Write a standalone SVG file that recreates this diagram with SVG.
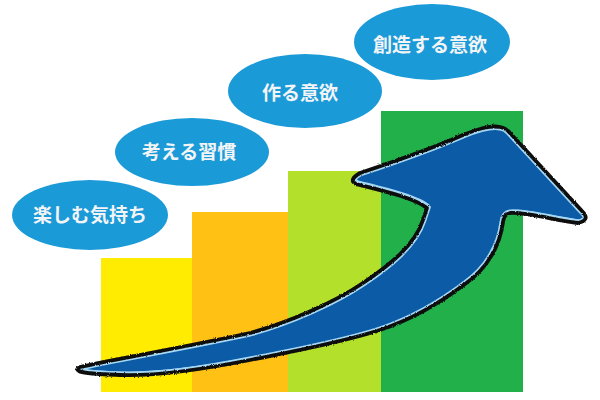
<svg xmlns="http://www.w3.org/2000/svg" width="600" height="400" viewBox="0 0 600 400">
  <style>
    .bubble { fill: #1b9ad8; }
    .label { font-family: "Noto Sans CJK JP", "Noto Sans", sans-serif; font-size: 19px; font-weight: 700; fill: #f3f4f6; text-anchor: middle; dominant-baseline: central; }
  </style>
  <defs>
    <path id="arrowShape" d="M 80,367 C 110,360 180,348 250,333 C 290,322 335,302 363,283 C 390,265 415,245 423,220 L 427,208 C 415,198 380,190 356,184 Q 348,180 360,173 C 390,163 440,145 463,135 C 478,129 490,125 500,127 Q 506,128 510,133 L 582,211 Q 591,220 578,223 C 555,220 525,212 510,213 Q 504,214 503,222 C 500,245 488,268 465,284 C 440,303 410,320 380,330 C 340,343 290,352 250,360 C 200,370 150,376 120,375 C 100,374 84,374 79,371 Q 75,369 80,367 Z"/>
    <clipPath id="arrowClip"><use href="#arrowShape"/></clipPath>
    <filter id="rough" x="-5%" y="-5%" width="110%" height="110%">
      <feTurbulence type="fractalNoise" baseFrequency="0.9" numOctaves="2" seed="3" result="n"/>
      <feDisplacementMap in="SourceGraphic" in2="n" scale="2.5" xChannelSelector="R" yChannelSelector="G"/>
    </filter>
  </defs>
  <rect width="600" height="400" fill="#ffffff"/>
  <g id="bars">
    <rect id="bar1" x="101" y="258" width="146" height="134" fill="#ffec00"/>
    <rect id="bar2" x="192" y="212" width="146" height="180" fill="#ffc214"/>
    <rect id="bar3" x="288" y="171" width="145" height="221" fill="#b3e02a"/>
    <rect id="bar4" x="381" y="111" width="142" height="281" fill="#22b04b"/>
  </g>
  <g id="arrow">
    <use href="#arrowShape" fill="#a6d8f4"/>
    <g clip-path="url(#arrowClip)">
      <use href="#arrowShape" fill="#0b5ba7" transform="translate(2.5,-3.5)"/>
      <use href="#arrowShape" fill="none" stroke="#a6d8f4" stroke-width="7"/>
    </g>
    <use href="#arrowShape" fill="none" stroke="#0a0a0a" stroke-width="3.8" stroke-linejoin="round" filter="url(#rough)"/>
  </g>
  <g id="node1">
    <ellipse class="bubble" cx="90" cy="215" rx="78" ry="35"/>
    <text class="label" x="90" y="213">楽しむ気持ち</text>
  </g>
  <g id="node2">
    <ellipse class="bubble" cx="192" cy="152" rx="77" ry="34"/>
    <text class="label" x="189" y="150">考える習慣</text>
  </g>
  <g id="node3">
    <ellipse class="bubble" cx="305" cy="91" rx="77" ry="37"/>
    <text class="label" x="300" y="91">作る意欲</text>
  </g>
  <g id="node4">
    <ellipse class="bubble" cx="432" cy="42" rx="78" ry="38"/>
    <text class="label" x="430" y="43">創造する意欲</text>
  </g>
</svg>
